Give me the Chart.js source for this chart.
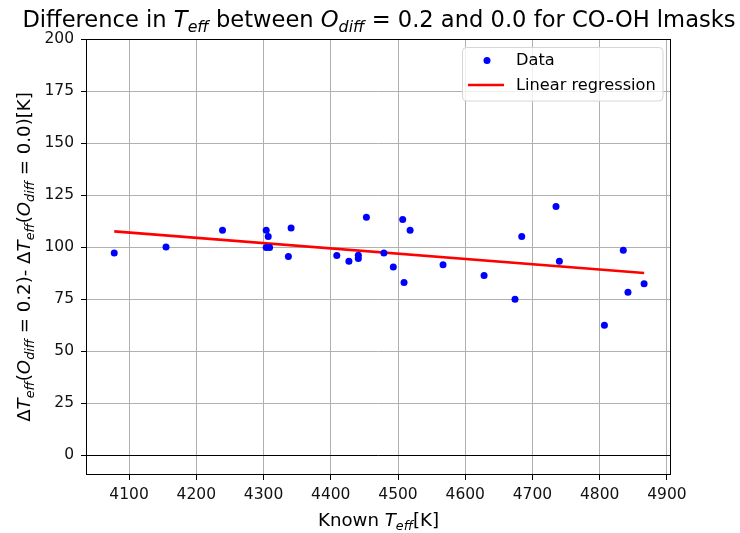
<!DOCTYPE html>
<html>
<head>
<meta charset="utf-8">
<script src="https://cdn.jsdelivr.net/npm/chart.js@4.4.1/dist/chart.umd.min.js"></script>
<style>
  html, body { margin: 0; padding: 0; background: #fff; }
  #wrap { width: 740px; height: 533px; }
</style>
</head>
<body>
<div id="wrap"><canvas id="c" width="740" height="533"></canvas></div>
<script>
// ---- data ----
const knownTeff = [4078, 4155, 4239, 4304, 4307, 4304, 4309, 4337, 4341, 4409, 4427, 4441, 4441, 4453, 4479, 4493, 4507, 4509, 4518, 4567, 4628, 4674, 4684, 4735, 4740, 4807, 4835, 4842, 4866];
const deltaTeff = [97.2, 100.1, 108.1, 108.1, 105.2, 99.9, 99.9, 95.6, 109.2, 96.0, 93.3, 96.2, 94.6, 114.4, 97.2, 90.5, 113.3, 83.0, 108.1, 91.6, 86.4, 75.0, 105.2, 119.5, 93.3, 62.5, 98.5, 78.4, 82.4];
const regX = [4078, 4866];
const regY = [107.6, 87.6];
const xTicks = [4100, 4200, 4300, 4400, 4500, 4600, 4700, 4800, 4900];
const yTicks = [0, 25, 50, 75, 100, 125, 150, 175, 200];
const xRange = [4036, 4906];
const yRange = [-9.4, 200];

const FONT = '"DejaVu Sans", "Liberation Sans", sans-serif';

function richWidth(ctx, segs, size) {
  let w = 0;
  for (const s of segs) {
    const fs = s.sub ? size * 0.7 : size;
    ctx.font = (s.it ? 'italic ' : '') + fs + 'px ' + FONT;
    s._w = ctx.measureText(s.s).width;
    w += s._w;
  }
  return w;
}
function drawRich(ctx, segs, x, y, size, color) {
  const total = richWidth(ctx, segs, size);
  let cx = x - total / 2;
  ctx.fillStyle = color;
  ctx.textBaseline = 'alphabetic';
  ctx.textAlign = 'left';
  for (const s of segs) {
    const fs = s.sub ? size * 0.7 : size;
    ctx.font = (s.it ? 'italic ' : '') + fs + 'px ' + FONT;
    ctx.fillText(s.s, cx, y + (s.sub ? size * 0.22 : 0));
    cx += s._w;
  }
}

const titleSegs = [
  {s: 'Difference in '}, {s: 'T', it: 1}, {s: 'eff', it: 1, sub: 1},
  {s: ' between '}, {s: 'O', it: 1}, {s: 'diff', it: 1, sub: 1},
  {s: ' = 0.2'}, {s: ' and 0.0 for CO-OH lmasks'}
];
const xLabelSegs = [{s: 'Known '}, {s: 'T', it: 1}, {s: 'eff', it: 1, sub: 1}, {s: '[K]'}];
const yLabelSegs = [
  {s: 'Δ'}, {s: 'T', it: 1}, {s: 'eff', it: 1, sub: 1}, {s: '('}, {s: 'O', it: 1}, {s: 'diff', it: 1, sub: 1}, {s: ' = 0.2)'},
  {s: '- '},
  {s: 'Δ'}, {s: 'T', it: 1}, {s: 'eff', it: 1, sub: 1}, {s: '('}, {s: 'O', it: 1}, {s: 'diff', it: 1, sub: 1}, {s: ' = 0.0)'},
  {s: '[K]'}
];

const decor = {
  id: 'decor',
  beforeDatasetsDraw(chart) {
    const {ctx, chartArea: a, scales} = chart;
    const y0 = Math.round(scales.y.getPixelForValue(0)) + 0.5;
    ctx.save();
    ctx.strokeStyle = '#000';
    ctx.lineWidth = 1;
    ctx.beginPath();
    ctx.moveTo(a.left, y0);
    ctx.lineTo(a.right, y0);
    ctx.stroke();
    ctx.restore();
  },
  afterDatasetsDraw(chart) {
    const {ctx, chartArea: a} = chart;
    ctx.save();
    ctx.strokeStyle = '#000';
    ctx.lineWidth = 1;
    ctx.strokeRect(a.left + 0.5, a.top + 0.5, a.right - a.left - 1, a.bottom - a.top - 1);
    ctx.restore();
  },
  afterDraw(chart) {
    const {ctx, chartArea: a} = chart;
    ctx.save();
    const cx = (a.left + a.right) / 2;
    drawRich(ctx, titleSegs, cx + 0.5, 27, 22.6, '#000');
    drawRich(ctx, xLabelSegs, cx, 526, 18.2, '#000');
    ctx.save();
    ctx.translate(30, (a.top + a.bottom) / 2);
    ctx.rotate(-Math.PI / 2);
    drawRich(ctx, yLabelSegs, 0, 0, 18.2, '#000');
    ctx.restore();

    // legend
    const lx = 462.5, ly = 47.5, lw = 200.5, lh = 53.5, r = 4;
    ctx.beginPath();
    ctx.moveTo(lx + r, ly);
    ctx.arcTo(lx + lw, ly, lx + lw, ly + lh, r);
    ctx.arcTo(lx + lw, ly + lh, lx, ly + lh, r);
    ctx.arcTo(lx, ly + lh, lx, ly, r);
    ctx.arcTo(lx, ly, lx + lw, ly, r);
    ctx.closePath();
    ctx.fillStyle = 'rgba(255,255,255,0.8)';
    ctx.fill();
    ctx.strokeStyle = '#d6d6d6';
    ctx.lineWidth = 1;
    ctx.stroke();

    ctx.fillStyle = '#0000ff';
    ctx.beginPath();
    ctx.arc(487, 60.5, 3.5, 0, Math.PI * 2);
    ctx.fill();
    ctx.strokeStyle = '#ff0000';
    ctx.lineWidth = 2.5;
    ctx.beginPath();
    ctx.moveTo(468, 85);
    ctx.lineTo(504, 85);
    ctx.stroke();

    ctx.fillStyle = '#000';
    ctx.font = '16.2px ' + FONT;
    ctx.textAlign = 'left';
    ctx.textBaseline = 'middle';
    ctx.fillText('Data', 516, 60.5);
    ctx.fillText('Linear regression', 516, 85.5);
    ctx.restore();
  }
};

const data = {
  datasets: [
    {
      label: 'Data',
      data: knownTeff.map((x, i) => ({x: x, y: deltaTeff[i]})),
      showLine: false,
      pointRadius: 3.5,
      pointHoverRadius: 3.5,
      pointBackgroundColor: '#0000ff',
      pointBorderWidth: 0,
      order: 1
    },
    {
      label: 'Linear regression',
      data: regX.map((x, i) => ({x: x, y: regY[i]})),
      showLine: true,
      pointRadius: 0,
      borderColor: '#ff0000',
      borderWidth: 2.6,
      order: 2
    }
  ]
};

new Chart(document.getElementById('c'), {
  type: 'scatter',
  data: data,
  plugins: [decor],
  options: {
    responsive: false,
    animation: false,
    devicePixelRatio: 1,
    layout: {padding: {left: 0, right: 69, top: 39, bottom: 0}},
    plugins: {legend: {display: false}, tooltip: {enabled: false}, title: {display: false}},
    scales: {
      x: {
        type: 'linear',
        min: xRange[0], max: xRange[1],
        afterBuildTicks: s => { s.ticks = xTicks.map(v => ({value: v})); },
        afterFit: s => { s.height = 58; },
        grid: {color: '#b0b0b0', lineWidth: 1, tickLength: 5, tickColor: '#000', tickWidth: 1},
        border: {display: false},
        ticks: {color: '#111', font: {family: FONT, size: 15.5}, padding: 6, maxRotation: 0, autoSkip: false,
                callback: v => String(v)}
      },
      y: {
        type: 'linear',
        min: yRange[0], max: yRange[1],
        afterBuildTicks: s => { s.ticks = yTicks.map(v => ({value: v})); },
        afterFit: s => { s.width = 86; },
        grid: {color: '#b0b0b0', lineWidth: 1, tickLength: 5, tickColor: '#000', tickWidth: 1},
        border: {display: false},
        ticks: {color: '#111', font: {family: FONT, size: 15.5}, padding: 7, autoSkip: false,
                callback: v => String(v)}
      }
    }
  }
});
</script>
</body>
</html>
